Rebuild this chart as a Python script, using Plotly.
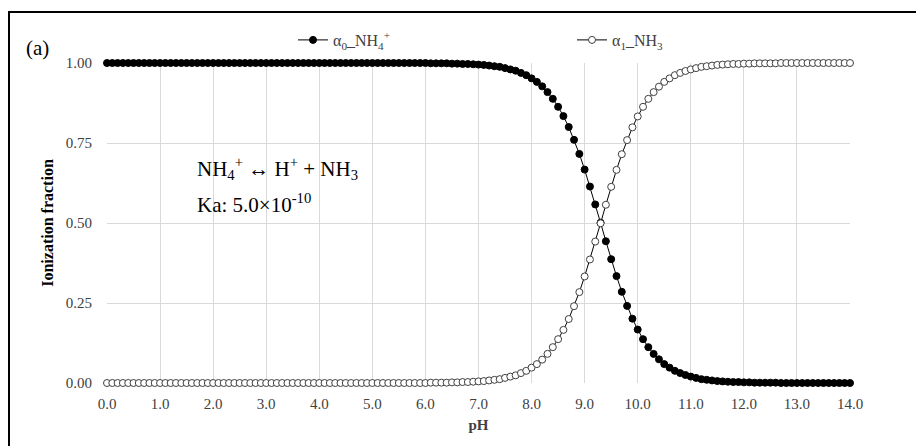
import plotly.graph_objects as go

# pH values (x)
ph = [0.0, 0.1, 0.2, 0.3, 0.4, 0.5, 0.6, 0.7, 0.8, 0.9,
      1.0, 1.1, 1.2, 1.3, 1.4, 1.5, 1.6, 1.7, 1.8, 1.9,
      2.0, 2.1, 2.2, 2.3, 2.4, 2.5, 2.6, 2.7, 2.8, 2.9,
      3.0, 3.1, 3.2, 3.3, 3.4, 3.5, 3.6, 3.7, 3.8, 3.9,
      4.0, 4.1, 4.2, 4.3, 4.4, 4.5, 4.6, 4.7, 4.8, 4.9,
      5.0, 5.1, 5.2, 5.3, 5.4, 5.5, 5.6, 5.7, 5.8, 5.9,
      6.0, 6.1, 6.2, 6.3, 6.4, 6.5, 6.6, 6.7, 6.8, 6.9,
      7.0, 7.1, 7.2, 7.3, 7.4, 7.5, 7.6, 7.7, 7.8, 7.9,
      8.0, 8.1, 8.2, 8.3, 8.4, 8.5, 8.6, 8.7, 8.8, 8.9,
      9.0, 9.1, 9.2, 9.3, 9.4, 9.5, 9.6, 9.7, 9.8, 9.9,
      10.0, 10.1, 10.2, 10.3, 10.4, 10.5, 10.6, 10.7, 10.8, 10.9,
      11.0, 11.1, 11.2, 11.3, 11.4, 11.5, 11.6, 11.7, 11.8, 11.9,
      12.0, 12.1, 12.2, 12.3, 12.4, 12.5, 12.6, 12.7, 12.8, 12.9,
      13.0, 13.1, 13.2, 13.3, 13.4, 13.5, 13.6, 13.7, 13.8, 13.9,
      14.0]

# alpha_0 (NH4+) fraction
alpha0 = [1.000, 1.000, 1.000, 1.000, 1.000, 1.000, 1.000, 1.000, 1.000, 1.000,
          1.000, 1.000, 1.000, 1.000, 1.000, 1.000, 1.000, 1.000, 1.000, 1.000,
          1.000, 1.000, 1.000, 1.000, 1.000, 1.000, 1.000, 1.000, 1.000, 1.000,
          1.000, 1.000, 1.000, 1.000, 1.000, 1.000, 1.000, 1.000, 1.000, 1.000,
          1.000, 1.000, 1.000, 1.000, 1.000, 1.000, 1.000, 1.000, 1.000, 1.000,
          1.000, 1.000, 1.000, 1.000, 1.000, 1.000, 1.000, 1.000, 1.000, 1.000,
          1.000, 0.999, 0.999, 0.999, 0.999, 0.998, 0.998, 0.997, 0.997, 0.996,
          0.995, 0.994, 0.992, 0.990, 0.988, 0.984, 0.980, 0.976, 0.969, 0.962,
          0.952, 0.941, 0.927, 0.909, 0.888, 0.863, 0.834, 0.800, 0.760, 0.716,
          0.667, 0.614, 0.558, 0.501, 0.443, 0.387, 0.334, 0.285, 0.241, 0.201,
          0.167, 0.137, 0.112, 0.091, 0.074, 0.059, 0.048, 0.038, 0.031, 0.025,
          0.020, 0.016, 0.012, 0.010, 0.008, 0.006, 0.005, 0.004, 0.003, 0.003,
          0.002, 0.002, 0.001, 0.001, 0.001, 0.001, 0.001, 0.000, 0.000, 0.000,
          0.000, 0.000, 0.000, 0.000, 0.000, 0.000, 0.000, 0.000, 0.000, 0.000,
          0.000]

# alpha_1 (NH3) fraction
alpha1 = [0.000, 0.000, 0.000, 0.000, 0.000, 0.000, 0.000, 0.000, 0.000, 0.000,
          0.000, 0.000, 0.000, 0.000, 0.000, 0.000, 0.000, 0.000, 0.000, 0.000,
          0.000, 0.000, 0.000, 0.000, 0.000, 0.000, 0.000, 0.000, 0.000, 0.000,
          0.000, 0.000, 0.000, 0.000, 0.000, 0.000, 0.000, 0.000, 0.000, 0.000,
          0.000, 0.000, 0.000, 0.000, 0.000, 0.000, 0.000, 0.000, 0.000, 0.000,
          0.000, 0.000, 0.000, 0.000, 0.000, 0.000, 0.000, 0.000, 0.000, 0.000,
          0.000, 0.001, 0.001, 0.001, 0.001, 0.002, 0.002, 0.003, 0.003, 0.004,
          0.005, 0.006, 0.008, 0.010, 0.012, 0.016, 0.020, 0.024, 0.031, 0.038,
          0.048, 0.059, 0.073, 0.091, 0.112, 0.137, 0.166, 0.200, 0.240, 0.284,
          0.333, 0.386, 0.442, 0.499, 0.557, 0.613, 0.666, 0.715, 0.759, 0.799,
          0.833, 0.863, 0.888, 0.909, 0.926, 0.941, 0.952, 0.962, 0.969, 0.975,
          0.980, 0.984, 0.988, 0.990, 0.992, 0.994, 0.995, 0.996, 0.997, 0.997,
          0.998, 0.998, 0.999, 0.999, 0.999, 0.999, 0.999, 1.000, 1.000, 1.000,
          1.000, 1.000, 1.000, 1.000, 1.000, 1.000, 1.000, 1.000, 1.000, 1.000,
          1.000]

x_ticks = [0, 1, 2, 3, 4, 5, 6, 7, 8, 9, 10, 11, 12, 13, 14]
x_tick_labels = ["0.0", "1.0", "2.0", "3.0", "4.0", "5.0", "6.0", "7.0",
                 "8.0", "9.0", "10.0", "11.0", "12.0", "13.0", "14.0"]
y_ticks = [0, 0.25, 0.5, 0.75, 1.0]
y_tick_labels = ["0.00", "0.25", "0.50", "0.75", "1.00"]

SERIF = "Liberation Serif, Times New Roman, serif"
W, H = 916, 446
L, R, T, B = 107, 66, 63, 63
PW, PH = W - L - R, H - T - B


def px(xp):
    return (xp - L) / PW


def py(yp):
    return (H - B - yp) / PH


fig = go.Figure()
fig.add_trace(go.Scatter(
    x=ph, y=alpha0, mode="lines+markers",
    name="α<sub>0</sub>_NH<sub>4</sub><sup>+</sup>",
    line=dict(color="black", width=1),
    marker=dict(symbol="circle", size=7, color="black",
                line=dict(color="black", width=1)),
    cliponaxis=False, legend="legend", showlegend=True,
))
fig.add_trace(go.Scatter(
    x=ph, y=alpha1, mode="lines+markers",
    name="α<sub>1</sub>_NH<sub>3</sub>",
    line=dict(color="black", width=1),
    marker=dict(symbol="circle", size=7, color="white",
                line=dict(color="#404040", width=1)),
    cliponaxis=False, legend="legend2", showlegend=True,
))

fig.update_layout(
    width=W, height=H,
    margin=dict(l=L, r=R, t=T, b=B),
    paper_bgcolor="white", plot_bgcolor="white",
    showlegend=True,
    font=dict(family=SERIF, color="#404040", size=15),
    legend=dict(x=px(293), y=py(40), xanchor="left", yanchor="middle",
                bgcolor="rgba(0,0,0,0)", font=dict(size=16, color="#404040"),
                visible=True),
    legend2=dict(x=px(572), y=py(40), xanchor="left", yanchor="middle",
                 bgcolor="rgba(0,0,0,0)", font=dict(size=16, color="#404040"),
                 visible=True),
    xaxis=dict(
        range=[0, 14], tickvals=x_ticks, ticktext=x_tick_labels,
        showgrid=True, gridcolor="#d9d9d9", gridwidth=1,
        zeroline=False, showline=False, ticks="",
        ticklabelstandoff=10,
        tickfont=dict(family=SERIF, size=15, color="#404040"),
        title=dict(text="<b>pH</b>", font=dict(family=SERIF, size=15, color="#404040"),
                   standoff=8),
    ),
    yaxis=dict(
        range=[0, 1], tickvals=y_ticks, ticktext=y_tick_labels,
        showgrid=True, gridcolor="#d9d9d9", gridwidth=1,
        zeroline=False, showline=False, ticks="",
        ticklabelstandoff=14,
        tickfont=dict(family=SERIF, size=15, color="#404040"),
        title=dict(text="<b>Ionization fraction</b>",
                   font=dict(family=SERIF, size=16, color="#000000"),
                   standoff=8),
    ),
    shapes=[dict(type="rect", xref="paper", yref="paper",
                 x0=px(9), x1=px(930), y0=py(460), y1=py(12),
                 line=dict(color="black", width=2), fillcolor="rgba(0,0,0,0)",
                 layer="above")],
    annotations=[
        dict(text="(a)", xref="paper", yref="paper", x=px(24), y=py(48),
             xanchor="left", yanchor="middle", showarrow=False,
             font=dict(family=SERIF, size=21, color="black")),
        dict(text="NH<sub>4</sub><sup>+</sup> ↔ H<sup>+</sup> + NH<sub>3</sub>",
             xref="paper", yref="paper", x=px(195), y=py(168),
             xanchor="left", yanchor="middle", showarrow=False,
             font=dict(family=SERIF, size=21, color="black")),
        dict(text="Ka: 5.0×10<sup>-10</sup>",
             xref="paper", yref="paper", x=px(195), y=py(203),
             xanchor="left", yanchor="middle", showarrow=False,
             font=dict(family=SERIF, size=21, color="black")),
    ],
)

fig.write_html("out.html", config={"displayModeBar": False},
               post_script="document.body.style.margin='0px';")
